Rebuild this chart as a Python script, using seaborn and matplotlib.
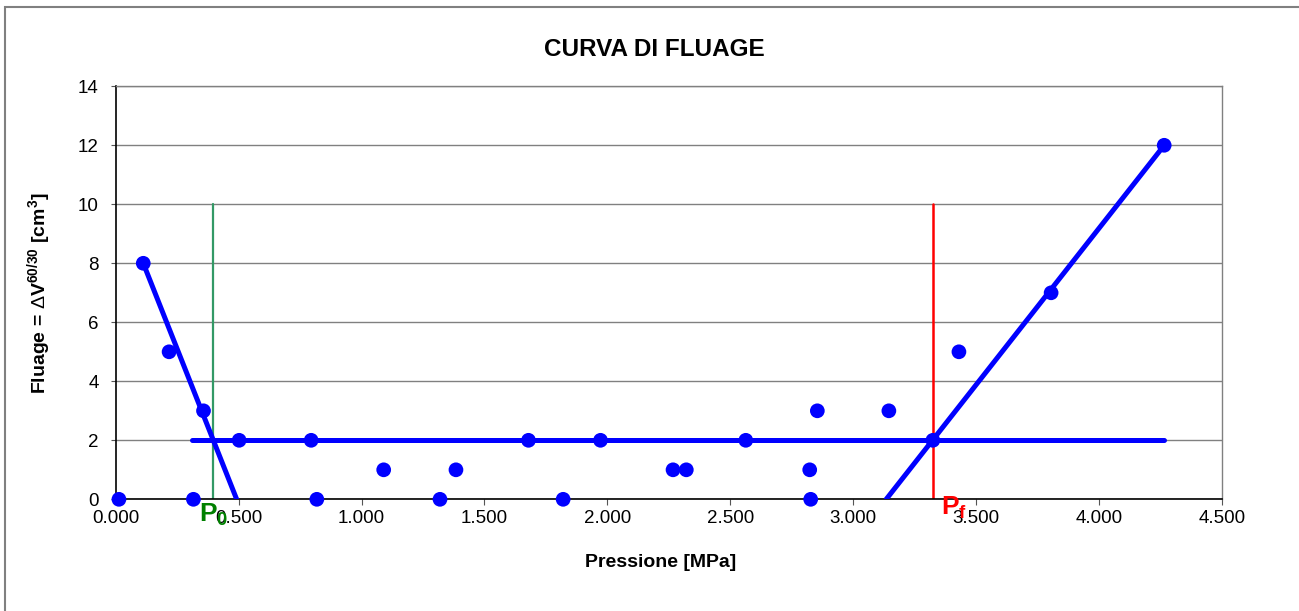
import matplotlib
matplotlib.use("Agg")
import matplotlib.pyplot as plt
import seaborn as sns
import pandas as pd
from matplotlib.patches import Rectangle

# Creep test readings: pressure [MPa] and creep volume dV 60/30 [cm3]
pressione = [0.013, 0.112, 0.217, 0.316, 0.357, 0.502, 0.795, 0.818, 1.090,
             1.319, 1.384, 1.679, 1.820, 1.972, 2.267, 2.321, 2.563, 2.823,
             2.827, 2.854, 3.145, 3.324, 3.430, 3.805, 4.265]
fluage = [0, 8, 5, 0, 3, 2, 2, 0, 1,
          0, 1, 2, 0, 2, 1, 1, 2, 1,
          0, 3, 3, 2, 5, 7, 12]

# Interpretation lines: initial branch, plateau, final branch
ramo_iniziale_x = [0.112, 0.492]
ramo_iniziale_y = [8, 0]
plateau_x = [0.312, 4.265]
plateau_y = [2, 2]
ramo_finale_x = [3.134, 4.265]
ramo_finale_y = [0, 12]

# Characteristic pressures P0 and Pf
p0 = 0.394
pf = 3.324
marker_top = 10

x_ticks = [0.0, 0.5, 1.0, 1.5, 2.0, 2.5, 3.0, 3.5, 4.0, 4.5]
y_ticks = [0, 2, 4, 6, 8, 10, 12, 14]

sns.set_style("white")
plt.rcParams["font.family"] = ["Liberation Sans", "DejaVu Sans"]
plt.rcParams["mathtext.fontset"] = "custom"
plt.rcParams["mathtext.rm"] = "Liberation Sans"
plt.rcParams["mathtext.bf"] = "Liberation Sans:bold"
plt.rcParams["mathtext.it"] = "Liberation Sans:italic"
plt.rcParams["text.color"] = "black"
plt.rcParams["axes.labelcolor"] = "black"
plt.rcParams["xtick.color"] = "black"
plt.rcParams["ytick.color"] = "black"

fig = plt.figure(figsize=(12.99, 6.11), dpi=100)
ax = fig.add_axes([0.0891, 0.1828, 0.8516, 0.6760])

# outer chart frame
fig.patches.append(Rectangle((5 / 1299, -0.05), 1.2, (611 - 7) / 611 + 0.05,
                             transform=fig.transFigure, fill=False,
                             edgecolor="#808080", linewidth=1.5))

ax.set_xlim(0, 4.5)
ax.set_ylim(0, 14)
ax.set_yticks(y_ticks)
ax.set_xticks(x_ticks)
ax.set_xticklabels([f"{v:.3f}" for v in x_ticks])
ax.yaxis.grid(True, color="#808080", linewidth=1.0)
ax.xaxis.grid(False)
ax.set_axisbelow(True)

for side in ["left", "bottom"]:
    ax.spines[side].set_color("black")
    ax.spines[side].set_linewidth(1.2)
ax.spines["top"].set_color("#808080")
ax.spines["right"].set_color("#808080")
ax.spines["top"].set_linewidth(1.0)
ax.spines["right"].set_linewidth(1.0)

ax.tick_params(axis="x", direction="out", length=4.5, width=0.8,
               color="#555555", labelcolor="black", pad=3, labelsize=13.5,
               bottom=True)
ax.tick_params(axis="y", direction="out", length=3.8, width=0.8,
               color="#555555", labelcolor="black", pad=8.5, labelsize=13.5,
               left=True)

# vertical markers for P0 and Pf
ax.plot([p0, p0], [0, marker_top], color="#339966", linewidth=1.6, zorder=2)
ax.plot([pf, pf], [0, marker_top], color="#ff0000", linewidth=1.8, zorder=2)

# fitted branches
lines = pd.DataFrame({
    "x": ramo_iniziale_x + plateau_x + ramo_finale_x,
    "y": ramo_iniziale_y + plateau_y + ramo_finale_y,
    "tratto": ["iniziale"] * 2 + ["plateau"] * 2 + ["finale"] * 2,
})
sns.lineplot(data=lines, x="x", y="y", units="tratto", estimator=None,
             sort=False, color="#0000ff", linewidth=3.6,
             solid_capstyle="round", ax=ax, zorder=3, legend=False)

# measured points
punti = pd.DataFrame({"Pressione": pressione, "Fluage": fluage})
sns.scatterplot(data=punti, x="Pressione", y="Fluage", color="#0000ff",
                s=112, edgecolor="none", ax=ax, zorder=4, clip_on=False,
                legend=False)

ax.text(0.340, -0.08, r"$\mathbf{P}_{\mathbf{0}}$", color="#008000",
        fontsize=19, ha="left", va="top", clip_on=False)
ax.text(3.358, 0.14, r"$\mathbf{P}_{\mathbf{f}}$", color="#ff0000",
        fontsize=19, ha="left", va="top", clip_on=False)

ax.set_xlabel("Pressione [MPa]", fontsize=14, fontweight="bold")
ax.xaxis.set_label_coords(0.4925, -0.132)
ax.set_ylabel(r"Fluage = $\Delta$V$^{\mathbf{60/30}}$ [cm$^{\mathbf{3}}$]",
              fontsize=14, fontweight="bold")
ax.yaxis.set_label_coords(-0.057, 0.50)

fig.text(654.5 / 1299, (611 - 56) / 611, "CURVA DI FLUAGE", fontsize=17.5,
         fontweight="bold", ha="center", va="baseline")

fig.savefig("out.png", dpi=100, facecolor="white")
